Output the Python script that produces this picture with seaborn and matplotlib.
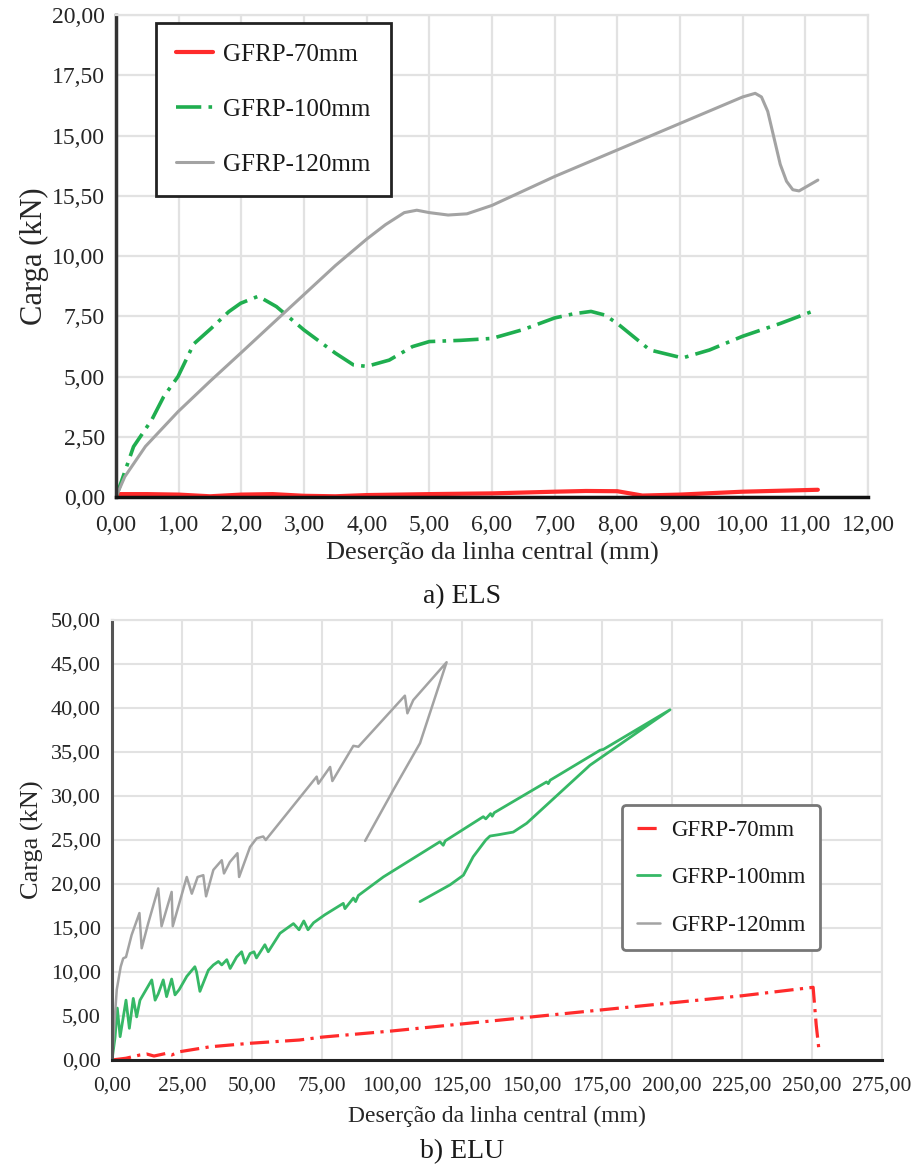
import numpy as np
import pandas as pd
import matplotlib
matplotlib.use("Agg")
import matplotlib.pyplot as plt
import seaborn as sns

# ---------------- data: a) ELS ----------------
els_70_x = [0, 0.5, 1.0, 1.5, 2.0, 2.5, 3.0, 3.5, 4.0, 5.0, 6.0, 7.0, 7.5, 8.0, 8.4, 9.0, 10.0, 11.2]
els_70_y = [0.12, 0.12, 0.10, 0.03, 0.10, 0.12, 0.05, 0.03, 0.08, 0.12, 0.15, 0.22, 0.25, 0.24, 0.06, 0.10, 0.22, 0.30]

els_100_x = [0, 0.28, 0.57, 0.76, 0.99, 1.24, 1.52, 1.80, 1.99, 2.27, 2.56, 3.0, 3.5, 3.79, 4.0,
             4.36, 4.73, 5.0, 5.5, 6.0, 6.5, 7.0, 7.3, 7.58, 7.8, 8.0, 8.52, 9.04, 9.47, 10.0, 10.6, 11.17]
els_100_y = [0, 2.09, 3.2, 4.16, 5.0, 6.35, 7.0, 7.69, 8.04, 8.33, 7.9, 6.93, 5.97, 5.48, 5.42,
             5.68, 6.24, 6.45, 6.5, 6.58, 6.95, 7.43, 7.6, 7.7, 7.55, 7.2, 6.1, 5.77, 6.1, 6.67, 7.2, 7.76]

els_120_x = [0, 0.14, 0.47, 0.99, 1.5, 1.99, 2.5, 3.0, 3.5, 4.0, 4.3, 4.6, 4.8, 5.0, 5.3, 5.6, 6.0,
             6.5, 7.0, 7.5, 8.0, 8.5, 9.0, 9.5, 10.0, 10.2, 10.3, 10.4, 10.5, 10.6, 10.7, 10.8, 10.9, 11.0, 11.2]
els_120_y = [0, 0.84, 2.1, 3.54, 4.8, 5.97, 7.2, 8.4, 9.6, 10.7, 11.3, 11.8, 11.9, 11.8, 11.7, 11.75, 12.1,
             12.7, 13.3, 13.85, 14.4, 14.95, 15.5, 16.05, 16.6, 16.75, 16.6, 16.0, 14.9, 13.8, 13.1, 12.75, 12.7, 12.85, 13.15]

els_xticks = [0, 1, 2, 3, 4, 5, 6, 7, 8, 9, 10, 11, 12]
els_xlabels = ["0,00", "1,00", "2,00", "3,00", "4,00", "5,00", "6,00", "7,00", "8,00", "9,00", "10,00", "11,00", "12,00"]
els_yticks = [0, 2.5, 5, 7.5, 10, 12.5, 15, 17.5, 20]
els_ylabels = ["0,00", "2,50", "5,00", "7,50", "10,00", "15,50", "15,00", "17,50", "20,00"]

# ---------------- data: b) ELU ----------------
elu_70_x = [0, 5, 10, 12.4, 15, 19.5, 21.3, 24.3, 35, 49.3, 66.9, 75, 100, 125, 150, 175, 200, 225, 250.4, 251.5, 252.5]
elu_70_y = [0, 0.2, 0.57, 0.68, 0.45, 0.76, 0.57, 0.95, 1.5, 1.9, 2.27, 2.6, 3.3, 4.1, 4.9, 5.7, 6.5, 7.3, 8.26, 4.0, 1.1]

elu_100_x = [0, 1.1, 1.9, 2.9, 5.0, 6.2, 7.6, 8.8, 10.0, 14.2, 15.4, 16.5, 18.3, 19.5, 21.3, 22.5, 24.0, 26.7,
             29.6, 30.2, 31.4, 34.4, 36.2, 38.0, 39.2, 41.0, 42.2, 44.5, 46.3, 47.5, 49.3, 50.7, 51.6, 54.6,
             55.8, 60.0, 64.8, 66.8, 68.5, 70.0, 72.0, 76.0, 82.6, 83.2, 86.2, 87.0, 88.0, 96.9, 117.1, 118.3,
             119.0, 132.6, 133.5, 135.2, 135.8, 136.5, 155.2, 155.8, 156.5, 174.3, 175.5, 199.3,
             170.7, 148.1, 143.3, 138.0, 135.0, 133.5, 129.0, 125.5, 120.7, 110.0]
elu_100_y = [0, 2.6, 5.9, 2.65, 6.8, 3.6, 7.0, 4.9, 6.8, 9.1, 6.8, 7.5, 9.1, 7.2, 9.2, 7.4, 8.0, 9.5,
             10.6, 10.0, 7.8, 10.2, 10.8, 11.2, 10.8, 11.4, 10.4, 11.7, 12.3, 11.0, 12.1, 12.3, 11.6, 13.1,
             12.3, 14.4, 15.5, 14.8, 15.8, 14.8, 15.6, 16.5, 17.8, 17.2, 18.4, 18.0, 18.7, 20.8, 24.8, 24.4,
             24.9, 27.65, 27.4, 28.0, 27.7, 28.1, 31.6, 31.4, 31.8, 35.2, 35.3, 39.8,
             33.5, 26.9, 25.9, 25.6, 25.45, 25.0, 23.1, 21.0, 19.9, 18.0]

elu_120_x = [0, 0.7, 1.7, 3.1, 4.0, 5.0, 7.0, 9.8, 10.6, 12.9, 16.5, 17.7, 21.3, 21.7, 26.7, 28.5, 30.6,
             32.6, 33.6, 36.2, 39.2, 40.0, 42.1, 44.8, 45.4, 49.3, 51.7, 54.0, 54.9, 73.1, 73.7, 77.9,
             78.7, 86.2, 88.0, 104.6, 105.5, 107.6, 119.5, 110.0, 100.5, 90.4]
elu_120_y = [0, 3.4, 8.0, 10.6, 11.55, 11.7, 14.2, 16.7, 12.7, 15.5, 19.5, 15.2, 19.1, 15.2, 20.8, 18.9, 20.8,
             21.0, 18.6, 21.6, 22.7, 21.2, 22.5, 23.5, 20.8, 24.2, 25.2, 25.4, 25.0, 32.2, 31.4, 33.3,
             31.7, 35.7, 35.6, 41.4, 39.4, 40.9, 45.2, 36.0, 30.7, 24.9]

elu_xticks = list(range(0, 276, 25))
elu_xlabels = ["0,00", "25,00", "50,00", "75,00", "100,00", "125,00", "150,00", "175,00",
               "200,00", "225,00", "250,00", "275,00"]
elu_yticks = list(range(0, 51, 5))
elu_ylabels = ["0,00", "5,00", "10,00", "15,00", "20,00", "25,00", "30,00", "35,00", "40,00", "45,00", "50,00"]

series_names = ["GFRP-70mm", "GFRP-100mm", "GFRP-120mm"]
RED = "#ff2b2b"
GREEN_A = "#1fae4f"
GREEN_B = "#36b866"
GRAY = "#a3a3a3"

# ---------------- style ----------------
sns.set_style("whitegrid", {"grid.color": "#e2e2e2", "axes.edgecolor": "#e2e2e2"})
plt.rcParams["font.family"] = ["Liberation Serif", "DejaVu Serif"]
plt.rcParams["text.color"] = "#1a1a1a"

fig = plt.figure(figsize=(9.24, 11.65), dpi=100)
ax1 = fig.add_axes([116 / 924, 1 - 497 / 1165, (868 - 116) / 924, (497 - 15) / 1165])
ax2 = fig.add_axes([112 / 924, 1 - 1060 / 1165, (882 - 112) / 924, (1060 - 620) / 1165])


def draw(ax, x, y, color, lw, dashes=None, label=None):
    df = pd.DataFrame({"x": x, "y": y})
    sns.lineplot(data=df, x="x", y="y", ax=ax, color=color, sort=False,
                 estimator=None, linewidth=lw, legend=False)
    ln = ax.lines[-1]
    if dashes is not None:
        ln.set_dashes(dashes)
    ln.set_solid_capstyle("round")
    ln.set_label(label)
    return ln


# ---------------- a) ELS ----------------
h70 = draw(ax1, els_70_x, els_70_y, RED, 3.0, label=series_names[0])
h100 = draw(ax1, els_100_x, els_100_y, GREEN_A, 2.6, dashes=(7, 2, 1, 2), label=series_names[1])
h120 = draw(ax1, els_120_x, els_120_y, GRAY, 2.2, label=series_names[2])

ax1.set_xlim(0, 12)
ax1.set_ylim(0, 20)
ax1.set_xticks(els_xticks)
ax1.set_xticklabels(els_xlabels, fontsize=17)
ax1.set_yticks(els_yticks)
ax1.set_yticklabels(els_ylabels, fontsize=17)
ax1.set_xlabel("Deserção da linha central (mm)", fontsize=19, labelpad=4)
ax1.set_ylabel("Carga (kN)", fontsize=22, labelpad=2)
ax1.grid(True, color="#e2e2e2", linewidth=1.6)
for side in ["top", "right"]:
    ax1.spines[side].set_color("#e2e2e2")
    ax1.spines[side].set_linewidth(1.6)
ax1.spines["left"].set_color("#333333")
ax1.spines["left"].set_linewidth(2.5)
ax1.spines["bottom"].set_color("#111111")
ax1.spines["bottom"].set_linewidth(2.5)
ax1.tick_params(axis="both", direction="out", length=5, width=1.5, color="#333333", pad=3)
ax1.tick_params(axis="x", pad=8)
leg1 = ax1.legend(handles=[h70, h100, h120], loc="upper left", bbox_to_anchor=(0.053, 0.983),
                  fontsize=18, frameon=True, fancybox=False, framealpha=1, edgecolor="#222222",
                  handlelength=1.5, handletextpad=0.4, labelspacing=1.3, borderpad=0.8,
                  borderaxespad=0)
leg1.get_frame().set_linewidth(2.0)

fig.text(0.5, 1 - 597 / 1165, "a) ELS", ha="center", va="center", fontsize=20)

# ---------------- b) ELU ----------------
g70 = draw(ax2, elu_70_x, elu_70_y, RED, 2.3, dashes=(6, 2, 1, 2), label=series_names[0])
g100 = draw(ax2, elu_100_x, elu_100_y, GREEN_B, 2.0, label=series_names[1])
g120 = draw(ax2, elu_120_x, elu_120_y, GRAY, 1.8, label=series_names[2])

ax2.set_xlim(0, 275)
ax2.set_ylim(0, 50)
ax2.set_xticks(elu_xticks)
ax2.set_xticklabels(elu_xlabels, fontsize=15.5)
ax2.set_yticks(elu_yticks)
ax2.set_yticklabels(elu_ylabels, fontsize=16)
ax2.set_xlabel("Deserção da linha central (mm)", fontsize=17, labelpad=7)
ax2.set_ylabel("Carga (kN)", fontsize=19, labelpad=5)
ax2.grid(True, color="#e2e2e2", linewidth=1.5)
for side in ["top", "right"]:
    ax2.spines[side].set_color("#e2e2e2")
    ax2.spines[side].set_linewidth(1.5)
ax2.spines["left"].set_color("#555555")
ax2.spines["left"].set_linewidth(2.2)
ax2.spines["bottom"].set_color("#222222")
ax2.spines["bottom"].set_linewidth(2.2)
ax2.tick_params(axis="both", direction="out", length=5, width=1.5, color="#444444", pad=3)
ax2.tick_params(axis="x", pad=7)
leg2 = ax2.legend(handles=[g70, g100, g120], loc="upper left", bbox_to_anchor=(0.662, 0.58),
                  fontsize=16.5, frameon=True, fancybox=True, framealpha=1, edgecolor="#777777",
                  handlelength=1.0, handletextpad=0.5, labelspacing=1.15, borderpad=0.65,
                  borderaxespad=0)
leg2.get_frame().set_linewidth(2.0)
leg2.get_frame().set_boxstyle("round", pad=0, rounding_size=0.2)

fig.text(0.5, 1 - 1152 / 1165, "b) ELU", ha="center", va="center", fontsize=20)

fig.savefig("out.png", dpi=100)
